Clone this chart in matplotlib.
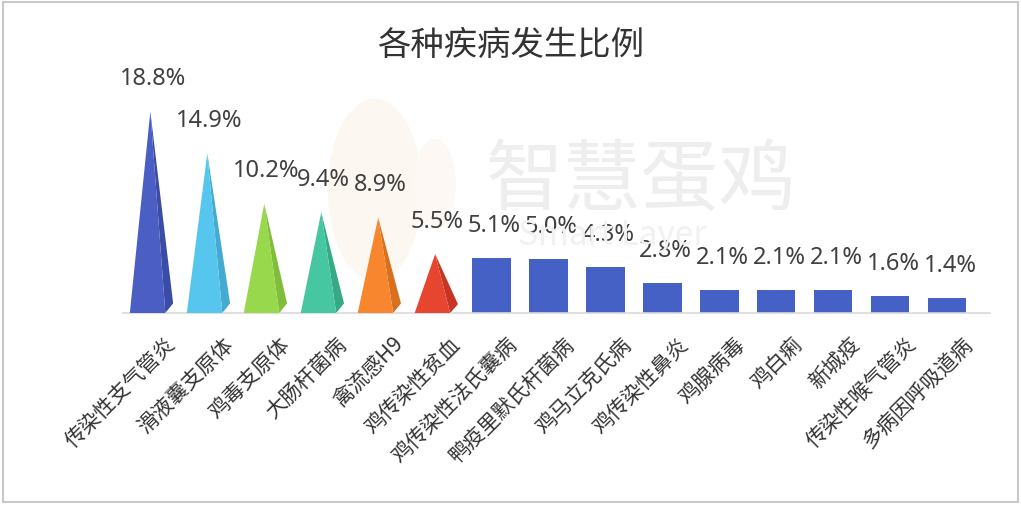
import matplotlib
matplotlib.use("Agg")
import matplotlib.pyplot as plt
from matplotlib.patches import Polygon, Rectangle, Ellipse
import matplotlib.transforms as mtransforms

plt.rcParams['font.family'] = ['Noto Sans CJK SC', 'DejaVu Sans']

title = "各种疾病发生比例"
categories = ["传染性支气管炎", "滑液囊支原体", "鸡毒支原体", "大肠杆菌病", "禽流感H9",
              "鸡传染性贫血", "鸡传染性法氏囊病", "鸭疫里默氏杆菌病", "鸡马立克氏病",
              "鸡传染性鼻炎", "鸡腺病毒", "鸡白痢", "新城疫", "传染性喉气管炎", "多病因呼吸道病"]
values = [18.8, 14.9, 10.2, 9.4, 8.9, 5.5, 5.1, 5.0, 4.3, 2.8, 2.1, 2.1, 2.1, 1.6, 1.4]
value_labels = ["18.8%", "14.9%", "10.2%", "9.4%", "8.9%", "5.5%", "5.1%", "5.0%", "4.3%",
                "2.8%", "2.1%", "2.1%", "2.1%", "1.6%", "1.4%"]
n_pyramids = 6
pyramid_colors = ["#4a5ec4", "#57c6ee", "#97d84c", "#47c7a1", "#f8862f", "#e6462f"]
pyramid_side = ["#3a4ca6", "#43aad2", "#7fbd3a", "#36a987", "#d8701f", "#c63522"]
bar_color = "#4661c6"

fig = plt.figure(figsize=(10.21, 5.06), dpi=100)
fig.patch.set_facecolor("white")
# outer frame
fig.patches.append(Rectangle((0.003, 0.006), 0.994, 0.988, transform=fig.transFigure,
                             fill=False, edgecolor="#c8c8c8", linewidth=1.5))

ax = fig.add_axes([123/1021, (506-314)/506, (990-123)/1021, 254/506])
ax.set_xlim(-0.47, 14.75)
ax.set_ylim(0, 23.7)

# watermark (faint)
ax.add_patch(Ellipse((3.95, 11.5), 1.65, 17.0, facecolor="#fdf7f1", edgecolor="none", zorder=0))
ax.add_patch(Ellipse((5.0, 12.0), 0.75, 8.5, facecolor="#fdf8f3", edgecolor="none", zorder=0))
fig.text(0.628, 0.64, "智慧蛋鸡", fontsize=56, color="#eeeeee", ha="center", va="center", zorder=0)
fig.text(0.60, 0.535, "Smart Layer", fontsize=24, color="#f1f1f1", ha="center", va="center", zorder=0)

x = list(range(len(categories)))
pw = 0.76
for i in range(n_pyramids):
    h = values[i]
    c = x[i] + 0.03
    bev = min(0.9, h * 0.15)
    front = [(c - pw/2, 0), (c + pw*0.32, 0), (c - 0.02, h)]
    side = [(c - 0.02, h), (c + pw*0.32, 0), (c + pw/2, bev)]
    ax.add_patch(Polygon(side, closed=True, facecolor=pyramid_side[i], edgecolor="none", zorder=2))
    ax.add_patch(Polygon(front, closed=True, facecolor=pyramid_colors[i], edgecolor="none", zorder=3))

ax.bar(x[n_pyramids:], values[n_pyramids:], width=0.67, color=bar_color, zorder=2)

for i in x:
    ax.annotate(value_labels[i], (x[i], values[i]), xytext=(2, 24), textcoords="offset points",
                ha="center", va="center", fontsize=17, color="#404040",
                family=["Noto Sans", "DejaVu Sans"])

for s in ["top", "right", "left"]:
    ax.spines[s].set_visible(False)
ax.spines["bottom"].set_color("#d9d9d9")
ax.spines["bottom"].set_linewidth(1.2)
ax.set_yticks([])
ax.set_xticks(x)
ax.set_xticklabels(categories, rotation=45, ha="right", va="top", rotation_mode="anchor",
                   fontsize=15, color="#333333")
ax.tick_params(axis="x", length=0, pad=4)
offset = mtransforms.ScaledTranslation(15/100, -14/100, fig.dpi_scale_trans)
for lbl in ax.get_xticklabels():
    lbl.set_transform(lbl.get_transform() + offset)
ax.patch.set_alpha(0)

fig.text(0.50, 0.91, title, fontsize=24, color="#333333", ha="center", va="center")

fig.savefig("out.png", dpi=100)
